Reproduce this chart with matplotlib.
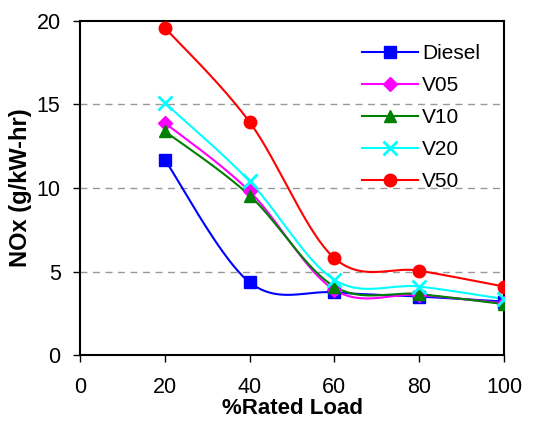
import numpy as np
import matplotlib
matplotlib.use("Agg")
import matplotlib.pyplot as plt

plt.rcParams['font.family'] = ['Liberation Sans', 'DejaVu Sans']

load = [20, 40, 60, 80, 100]
diesel = [11.7, 4.35, 3.75, 3.5, 3.2]
v05 = [13.9, 9.8, 3.9, 3.6, 3.1]
v10 = [13.4, 9.55, 4.1, 3.65, 3.05]
v20 = [15.1, 10.4, 4.5, 4.1, 3.35]
v50 = [19.6, 13.95, 5.8, 5.05, 4.1]

series = [
    ("Diesel", diesel, "#0000FF", "s", 9),
    ("V05", v05, "#FF00FF", "D", 7),
    ("V10", v10, "#008000", "^", 9),
    ("V20", v20, "#00FFFF", "x", 10),
    ("V50", v50, "#FF0000", "o", 9),
]


def smooth(x, y, n=40):
    x = np.asarray(x, float)
    y = np.asarray(y, float)
    xs, ys = [], []
    m = len(x)
    for i in range(m - 1):
        p0 = np.array([x[max(i - 1, 0)], y[max(i - 1, 0)]])
        p1 = np.array([x[i], y[i]])
        p2 = np.array([x[i + 1], y[i + 1]])
        p3 = np.array([x[min(i + 2, m - 1)], y[min(i + 2, m - 1)]])
        c1 = p1 + (p2 - p0) / 6.0
        c2 = p2 - (p3 - p1) / 6.0
        t = np.linspace(0, 1, n)[:, None]
        pts = ((1 - t) ** 3) * p1 + 3 * ((1 - t) ** 2) * t * c1 + 3 * (1 - t) * t ** 2 * c2 + t ** 3 * p2
        xs.extend(pts[:, 0])
        ys.extend(pts[:, 1])
    return xs, ys


fig = plt.figure(figsize=(5.51, 4.23), dpi=100)
ax = fig.add_axes([80 / 551, 1 - 355 / 423, (504 - 80) / 551, (355 - 21) / 423])

for y in [5, 10, 15]:
    ax.axhline(y, color='#999999', linestyle=(0, (5, 4)), linewidth=1.0, zorder=0)

for name, vals, col, mk, ms in series:
    sx, sy = smooth(load, vals)
    ax.plot(sx, sy, color=col, linewidth=1.5, zorder=2)
    ax.plot(load, vals, linestyle='none', marker=mk, color=col, markersize=ms,
            markeredgewidth=2 if mk == 'x' else 1, zorder=3)
    ax.plot([], [], color=col, linewidth=1.5, marker=mk, markersize=ms,
            markeredgewidth=2 if mk == 'x' else 1, label=name)

ax.set_xlim(0, 100)
ax.set_ylim(0, 20)
ax.set_xticks([0, 20, 40, 60, 80, 100])
ax.set_yticks([0, 5, 10, 15, 20])
ax.tick_params(axis='both', direction='out', length=5, width=1, labelsize=15.5, colors='black')
ax.tick_params(axis='y', pad=9)
ax.tick_params(axis='x', pad=11)
for s in ax.spines.values():
    s.set_linewidth(1.5)
    s.set_color('black')

ax.set_xlabel('%Rated Load', fontsize=16, fontweight='bold', labelpad=0)
ax.set_ylabel('NOx (g/kW-hr)', fontsize=17, fontweight='bold', labelpad=3)

leg = ax.legend(loc='upper left', bbox_to_anchor=(0.645, 0.955), frameon=False, fontsize=15,
                handlelength=2.7, labelspacing=0.62, handletextpad=0.2, borderaxespad=0.0)

fig.savefig('out.png', dpi=100)
